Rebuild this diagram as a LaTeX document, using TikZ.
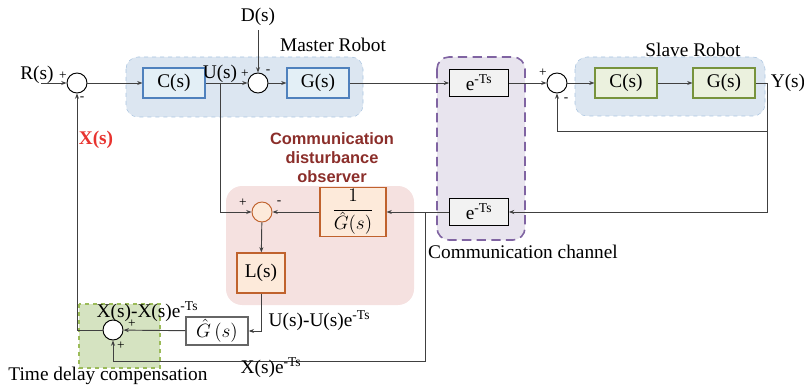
\documentclass[tikz,border=0pt]{standalone}
\usepackage{fontspec}
\setmainfont{Liberation Serif}
\newfontfamily\titlefont{Liberation Sans}
\usepackage{tikz}
\usetikzlibrary{arrows.meta,positioning}
\definecolor{wire}{HTML}{404040}
\definecolor{mastfill}{HTML}{DCE6F1}
\definecolor{mastedge}{HTML}{A9C4E0}
\definecolor{bluebox}{HTML}{E3EFF6}
\definecolor{blueedge}{HTML}{4F81BD}
\definecolor{greenbox}{HTML}{EBF1DE}
\definecolor{greenedge}{HTML}{77933C}
\definecolor{chanfill}{HTML}{E8E4EE}
\definecolor{chanedge}{HTML}{8064A2}
\definecolor{obsfill}{HTML}{F5E1E0}
\definecolor{orangebox}{HTML}{FDEADA}
\definecolor{orangeedge}{HTML}{C0622D}
\definecolor{tdcfill}{HTML}{D5E3C1}
\definecolor{tdcedge}{HTML}{9BBB59}
\definecolor{titlered}{HTML}{8B2E2A}
\definecolor{xred}{HTML}{E8332F}

\begin{document}
\begin{tikzpicture}[x=0.75pt,y=-0.75pt,
     font=\fontsize{14.5}{16}\selectfont,
     wire/.style={draw=wire,line width=0.7pt},
     arr/.style={wire,-{Stealth[length=4pt,width=3pt]}},
     sum/.style={circle,draw=black,line width=0.7pt,fill=white,
       minimum size=15pt,inner sep=0pt},
     blk/.style={draw,line width=0.8pt,minimum width=46.5pt,
       minimum height=22.5pt,inner sep=1pt},
     mblk/.style={blk,draw=blueedge,fill=bluebox},
     sblk/.style={blk,draw=greenedge,fill=greenbox},
     dblk/.style={blk,draw=black,fill=gray!10,minimum width=44pt,
       minimum height=20pt},
     oblk/.style={blk,draw=orangeedge,fill=orangebox},
     sgn/.style={font=\fontsize{10}{10}\selectfont,inner sep=0pt},
     region/.style={rounded corners=9pt}]
    \useasboundingbox (0,0) rectangle (804,385);
    % shaded groups
    \filldraw[region,fill=mastfill,draw=mastedge,dashed] (126,57) rectangle (363,117);
    \filldraw[region,fill=mastfill,draw=mastedge,dashed] (575,57) rectangle (765,116);
    \filldraw[region,fill=chanfill,draw=chanedge,line width=1.2pt,
      dash pattern=on 7pt off 4pt] (437,57) rectangle (525,240);
    \fill[region,rounded corners=12pt,fill=obsfill] (226,186) rectangle (414,305);
    \filldraw[fill=tdcfill,draw=tdcedge,line width=0.8pt,dashed] (79,304) rectangle (160,368);
    % blocks
    \node[sum] (s1) at (77,83) {};
    \node[mblk] (c1) at (174,83) {C(s)};
    \node[sum] (s2) at (258,83) {};
    \node[mblk] (g1) at (318,83) {G(s)};
    \node[dblk] (d1) at (479,83) {e\textsuperscript{-Ts}};
    \node[sum] (s3) at (557,83) {};
    \node[sblk] (c2) at (626,83) {C(s)};
    \node[sblk] (g2) at (724,83) {G(s)};
    \node[dblk] (d2) at (479,212) {e\textsuperscript{-Ts}};
    \node[oblk,minimum width=49.5pt,minimum height=34.5pt] (inv) at (353,212)
      {$\displaystyle\frac{1}{\hat{G}(s)}$};
    \node[sum,draw=orangeedge,fill=orangebox] (s4) at (262,212) {};
    \node[oblk,minimum width=36pt,minimum height=30pt] (lf) at (261,273) {L(s)};
    \node[dblk,fill=white,draw=gray!80!black,line width=1.1pt,
      minimum width=46.5pt,minimum height=21pt] (gh) at (217,331) {$\hat{G}\,(s)$};
    \node[sum] (s5) at (113,330) {};
    % signals
    \node (rl) at (37,75) {R(s)};
    \coordinate (rin) at (41,83);
    \node (dl) at (258,17) {D(s)};
    \node (ul) at (220,74) {U(s)};
    \coordinate (uj) at (220,83);
    \node (yl) at (788,83) {Y(s)};
    \coordinate (yj) at (767,83);
    \coordinate (yfb) at (767,131);
    \coordinate (ch) at (425,212);
    \coordinate (chb) at (425,361);
    % connectors
    \draw[arr] (rin) -- (s1);
    \draw[arr] (s1) -- (c1);
    \draw[arr] (c1) -- (s2);
    \draw[arr] (dl) -- (s2);
    \draw[arr] (s2) -- (g1);
    \draw[arr] (g1) -- (d1);
    \draw[arr] (d1) -- (s3);
    \draw[arr] (s3) -- (c2);
    \draw[arr] (c2) -- (g2);
    \draw[wire] (g2) -- (yj);
    \draw[arr] (yj) -- (yfb) -| (s3);
    \draw[arr] (yfb) |- (d2);
    \draw[arr] (d2) -- (inv);
    \draw[arr] (inv) -- (s4);
    \draw[arr] (uj) |- (s4);
    \draw[arr] (s4) -- (lf);
    \draw[arr] (lf) |- (gh);
    \draw[arr] (gh) -- (s5);
    \draw[arr] (s5) -| (s1);
    \draw[arr] (ch) -- (chb) -| (s5);
    % signs
    \node[sgn] at (63,76) {+};  \node[sgn] at (82,99) {-};
    \node[sgn] at (245,74) {+}; \node[sgn] at (268,72) {-};
    \node[sgn] at (543,73) {+}; \node[sgn] at (566,100) {-};
    \node[sgn] at (243,203) {+}; \node[sgn] at (279,203) {-};
    \node[sgn] at (132,324) {+}; \node[sgn] at (121,346) {+};
    % labels
    \node (ml) at (333,45) {Master Robot};
    \node (sl) at (693,50) {Slave Robot};
    \node[text=xred,font=\fontsize{14.5}{16}\selectfont\bfseries] (xl) at (96,140) {X(s)};
    \node[text=titlered,align=center,
      font=\titlefont\bfseries\fontsize{12.3}{14.2}\selectfont] (ot) at (332,158)
      {Communication\\disturbance\\observer};
    \node (cl) at (523,252) {Communication channel};
    \node[anchor=west] (ul2) at (264,321) {U(s)-U(s)e\textsuperscript{-Ts}};
    \node[anchor=west] (xl2) at (92,312) {X(s)-X(s)e\textsuperscript{-Ts}};
    \node (xl3) at (271,368) {X(s)e\textsuperscript{-Ts}};
    \node (tl) at (108,376) {Time delay compensation};
\end{tikzpicture}
\end{document}
